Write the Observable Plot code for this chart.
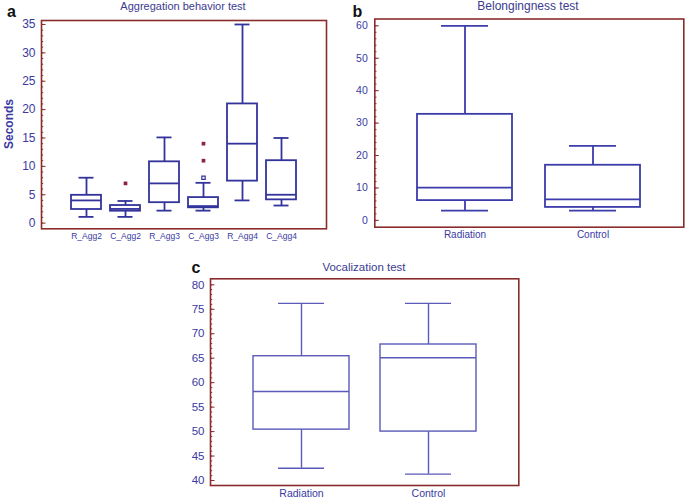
<!DOCTYPE html>
<html><head><meta charset="utf-8">
<script src="https://cdn.jsdelivr.net/npm/d3@7"></script>
<script src="https://cdn.jsdelivr.net/npm/@observablehq/plot@0.6"></script>
<style>
body{margin:0;background:#fff;}
#fig{position:relative;width:685px;height:501px;overflow:hidden;font-family:"Liberation Sans",Arial,sans-serif;background:#fff;}
.panel{position:absolute;}
.panel svg{overflow:visible;}
#overlay{position:absolute;left:0;top:0;pointer-events:none;}
</style></head><body><div id="fig"></div>
<script>
// ---------- data ----------
const aCategories = ["R_Agg2","C_Agg2","R_Agg3","C_Agg3","R_Agg4","C_Agg4"];
const aMin    = [1.1, 1.1, 2.2, 2.2, 4.0, 3.1];
const aQ1     = [2.4, 2.1, 3.6, 2.7, 7.4, 4.1];
const aMedian = [4.0, 2.5, 7.0, 3.0, 14.0, 5.0];
const aQ3     = [4.9, 3.1, 10.8, 4.5, 21.0, 11.0];
const aMax    = [8.0, 3.9, 15.1, 7.1, 35.0, 15.0];
const aFarOutCategories = ["C_Agg2","C_Agg3","C_Agg3"];
const aFarOutValues     = [7.0, 14.0, 11.0];
const aOutCategories    = ["C_Agg3"];
const aOutValues        = [8.0];
const aTicks = [0,5,10,15,20,25,30,35];

const bCategories = ["Radiation","Control"];
const bMin    = [3.0, 3.0];
const bQ1     = [6.1, 4.0];
const bMedian = [10.1, 6.5];
const bQ3     = [32.7, 17.0];
const bMax    = [60.0, 23.0];
const bTicks = [0,10,20,30,40,50,60];

const cCategories = ["Radiation","Control"];
const cMin    = [42.5, 41.3];
const cQ1     = [50.4, 50.0];
const cMedian = [58.2, 65.1];
const cQ3     = [65.4, 67.8];
const cMax    = [76.2, 76.2];
const cTicks = [40,45,50,55,60,65,70,75,80];

const frameColor = "#8b2c2c";
const labelColor = "#3a3aa2";
const outlierColor = "#8e2540";

const fig = document.getElementById("fig");

function boxPanel(o) {
  const rows = o.cats.map((c,i)=>({cat:c,min:o.min[i],q1:o.q1[i],med:o.med[i],q3:o.q3[i],max:o.max[i]}));
  const st = {stroke:o.color, strokeWidth:o.sw};
  const marks = [
    Plot.axisY({ticks:o.minor, tickSize:-2.2, fill:"none", stroke:frameColor, label:null}),
    Plot.axisY({ticks:o.ticks, tickSize:-4.5, fill:"none", stroke:frameColor, label:null}),
    Plot.axisY({ticks:o.ticks, tickSize:0, tickPadding:o.yPad, fill:labelColor, fontSize:o.yFont, label:null}),
    Plot.axisX({tickSize:0, tickPadding:o.xPad, fill:labelColor, fontSize:o.xFont, label:null}),
    Plot.ruleX(rows, {x:"cat", y1:"q3", y2:"max", ...st}),
    Plot.ruleX(rows, {x:"cat", y1:"min", y2:"q1", ...st}),
    Plot.tickY(rows, {x:"cat", y:"max", insetLeft:o.cap, insetRight:o.cap, ...st}),
    Plot.tickY(rows, {x:"cat", y:"min", insetLeft:o.cap, insetRight:o.cap, ...st}),
    Plot.barY(rows, {x:"cat", y1:"q1", y2:"q3", fill:"white", ...st}),
    Plot.tickY(rows, {x:"cat", y:"med", ...st}),
    ...(o.extra || []),
    Plot.frame({stroke:frameColor, strokeWidth:1.6})
  ];
  const svg = Plot.plot({
    width:o.width, height:o.height,
    marginLeft:o.ml, marginRight:o.mr, marginTop:o.mt, marginBottom:o.mb,
    x:{type:"band", domain:o.cats, paddingInner:o.pi, paddingOuter:o.po},
    y:{domain:o.yDomain},
    style:{fontFamily:"Liberation Sans, Arial, sans-serif", background:"transparent", overflow:"visible"},
    marks
  });
  const div = document.createElement("div");
  div.className = "panel";
  div.style.left = o.left + "px";
  div.style.top = o.top + "px";
  div.appendChild(svg);
  fig.appendChild(div);
}

// Panel a
const farOut = aFarOutCategories.map((c,i)=>({cat:c, v:aFarOutValues[i]}));
const out = aOutCategories.map((c,i)=>({cat:c, v:aOutValues[i]}));
boxPanel({
  cats:aCategories, min:aMin, q1:aQ1, med:aMedian, q3:aQ3, max:aMax,
  ticks:aTicks, minor:d3.range(0,36,1), yDomain:[-1,35.7],
  left:0, top:0, width:335, height:250, ml:41, mr:9, mt:20, mb:21.7,
  pi:0.235, po:0.75, cap:7.5, color:"#33339c", sw:1.8,
  yFont:12, yPad:6, xFont:8.5, xPad:4.4,
  extra:[
    Plot.dot(farOut, {x:"cat", y:"v", symbol:"square", r:2.1, fill:outlierColor, stroke:null}),
    Plot.dot(out, {x:"cat", y:"v", symbol:"square", r:1.9, fill:"white", stroke:"#33339c", strokeWidth:1.2})
  ]
});

// Panel b
boxPanel({
  cats:bCategories, min:bMin, q1:bQ1, med:bMedian, q3:bQ3, max:bMax,
  ticks:bTicks, minor:d3.range(0,61,2), yDomain:[-2.1,62.1],
  left:340, top:0, width:345, height:250, ml:34.3, mr:1.7, mt:18.5, mb:23.3,
  pi:0.256, po:0.332, cap:24, color:"#3c3cab", sw:1.8,
  yFont:10.5, yPad:7, xFont:10, xPad:3.3
});

// Panel c
boxPanel({
  cats:cCategories, min:cMin, q1:cQ1, med:cMedian, q3:cQ3, max:cMax,
  ticks:cTicks, minor:d3.range(40,81,1), yDomain:[38.98,81.23],
  left:150, top:250, width:400, height:251, ml:60, mr:31.7, mt:28.3, mb:16,
  pi:0.245, po:0.334, cap:25, color:"#5a5ab8", sw:1.4,
  yFont:11.5, yPad:6, xFont:10.5, xPad:4.2
});

// Titles, panel letters, y label
const ov = d3.select(fig).append("svg").attr("id","overlay").attr("width",685).attr("height",501)
  .style("font-family","Liberation Sans, Arial, sans-serif");
const titles = [
  {t:"Aggregation behavior test", x:183, y:9.5, s:11},
  {t:"Belongingness test", x:528, y:10, s:12},
  {t:"Vocalization test", x:364, y:270.5, s:11.5}
];
ov.selectAll("text.t").data(titles).join("text").attr("class","t")
  .attr("x",d=>d.x).attr("y",d=>d.y).attr("text-anchor","middle")
  .attr("font-size",d=>d.s).attr("fill","#3b3b8f").text(d=>d.t);
const letters = [
  {t:"a", x:7, y:16.7},
  {t:"b", x:352.5, y:16.7},
  {t:"c", x:191.5, y:273.3}
];
ov.selectAll("text.l").data(letters).join("text").attr("class","l")
  .attr("x",d=>d.x).attr("y",d=>d.y).attr("font-size",16).attr("font-weight","bold")
  .attr("fill","#111").text(d=>d.t);
ov.append("text").attr("transform","translate(12.5,124) rotate(-90)")
  .attr("text-anchor","middle").attr("font-size",12).attr("font-weight","bold")
  .attr("fill","#3a3aa2").text("Seconds");
</script></body></html>
